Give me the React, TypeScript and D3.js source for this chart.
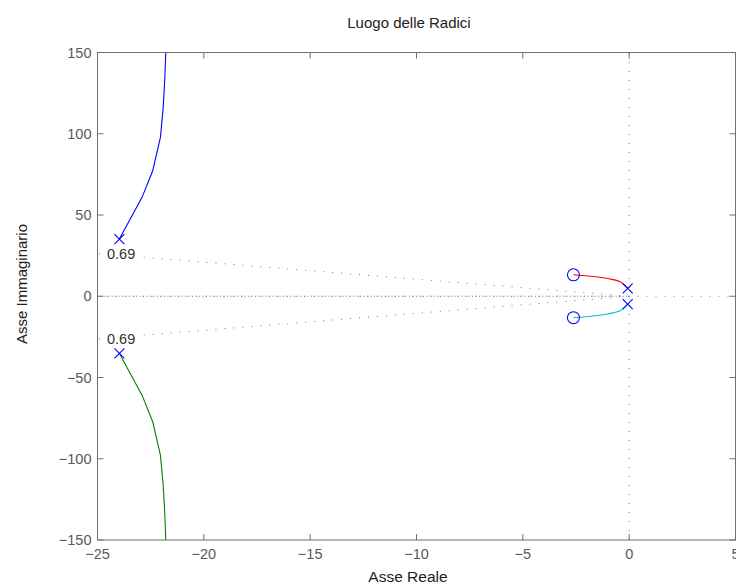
import React from "react";
import * as d3 from "d3";

// Root locus branches (real, imaginary)
const branchUpperRe = [-23.97, -22.9, -22.4, -22.04, -21.91, -21.84, -21.79, -21.78];
const branchUpperIm = [35.2, 61.0, 77.4, 97.9, 116.4, 132.8, 149.8, 160];
const branchLowerRe = [-23.97, -22.9, -22.4, -22.04, -21.91, -21.84, -21.79, -21.78];
const branchLowerIm = [-35.2, -61.0, -77.4, -97.9, -116.4, -132.8, -149.8, -160];
const branchRedRe = [-2.62, -1.81, -1.02, -0.4, -0.07];
const branchRedIm = [13.2, 12.3, 10.9, 8.8, 4.9];
const branchCyanRe = [-2.62, -1.81, -1.02, -0.4, -0.07];
const branchCyanIm = [-13.2, -12.3, -10.9, -8.8, -4.9];

// Open-loop poles and zeros
const polesRe = [-23.97, -23.97, -0.07, -0.07];
const polesIm = [35.2, -35.2, 4.9, -4.9];
const zerosRe = [-2.62, -2.62];
const zerosIm = [13.2, -13.2];

const xTicks = [-25, -20, -15, -10, -5, 0, 5];
const yTicks = [-150, -100, -50, 0, 50, 100, 150];
const dampingValue = 0.69;

const W = 736;
const H = 585;
const L = 97.5;
const R = 735.5;
const T = 52.5;
const B = 540;

const fmt = (v: number) => (v < 0 ? "\u2212" + Math.abs(v) : String(v));

export default function App() {
  const x = d3.scaleLinear().domain([-25, 5]).range([L, R]);
  const y = d3.scaleLinear().domain([-150, 150]).range([B, T]);

  const line = d3
    .line<[number, number]>()
    .x((d) => x(d[0]))
    .y((d) => y(d[1]));
  const lineX = d3
    .line<[number, number]>()
    .x((d) => x(d[0]))
    .y((d) => y(d[1]))
    .curve(d3.curveMonotoneX);

  const zip = (a: number[], b: number[]) => a.map((v, i) => [v, b[i]] as [number, number]);

  const axisColor = "#6f6f6f";
  const tickColor = "#5a5a5a";
  const gridColor = "#7a7a7a";
  const font = "'Liberation Sans', Arial, sans-serif";

  // Damping ratio lines end at the left edge of the axes
  const slope = Math.sqrt(1 - dampingValue * dampingValue) / dampingValue;
  const dampIm = 25 * slope;

  return (
    <svg width={W} height={H} style={{ position: "absolute", left: 0, top: 0 }}>
      <rect x={0} y={0} width={W} height={H} fill="#fff" />
      <defs>
        <clipPath id="plotArea">
          <rect x={L} y={T} width={R - L} height={B - T} />
        </clipPath>
      </defs>

      {/* grid */}
      <g clipPath="url(#plotArea)" stroke={gridColor} strokeWidth={1} fill="none">
        <line x1={x(-25)} y1={y(0)} x2={x(5)} y2={y(0)} strokeDasharray="1,8" />
        <line x1={x(-25)} y1={y(0)} x2={x(0)} y2={y(0)} strokeDasharray="1,2.5" />
        <line x1={x(0)} y1={y(-150)} x2={x(0)} y2={y(150)} strokeDasharray="1,8" />
        <line x1={x(0)} y1={y(0)} x2={x(-25)} y2={y(dampIm)} strokeDasharray="1,8" />
        <line x1={x(0)} y1={y(0)} x2={x(-25)} y2={y(-dampIm)} strokeDasharray="1,8" />
      </g>
      {[dampIm, -dampIm].map((im, i) => (
        <g key={i}>
          <rect x={107} y={y(im) - 8} width={32} height={16} fill="#fff" />
          <text
            x={107}
            y={y(im) + 5.5}
            fontFamily={font}
            fontSize={14.5}
            fill="#333"
          >
            {dampingValue.toFixed(2)}
          </text>
        </g>
      ))}

      {/* branches */}
      <g clipPath="url(#plotArea)" fill="none" strokeWidth={1.1}>
        <path d={line(zip(branchUpperRe, branchUpperIm)) || ""} stroke="#0000ff" />
        <path d={line(zip(branchLowerRe, branchLowerIm)) || ""} stroke="#008000" />
        <path d={lineX(zip(branchRedRe, branchRedIm)) || ""} stroke="#ff0000" />
        <path d={lineX(zip(branchCyanRe, branchCyanIm)) || ""} stroke="#00bfbf" />
      </g>

      {/* poles */}
      {polesRe.map((re, i) => {
        const cx = x(re);
        const cy = y(polesIm[i]);
        const s = 5;
        return (
          <path
            key={"p" + i}
            d={`M${cx - s},${cy - s}L${cx + s},${cy + s}M${cx - s},${cy + s}L${cx + s},${cy - s}`}
            stroke="#0000ff"
            strokeWidth={1.1}
          />
        );
      })}
      {/* zeros */}
      {zerosRe.map((re, i) => (
        <circle
          key={"z" + i}
          cx={x(re)}
          cy={y(zerosIm[i])}
          r={6}
          fill="none"
          stroke="#0000ff"
          strokeWidth={1.1}
        />
      ))}

      {/* frame */}
      <rect x={L} y={T} width={R - L} height={B - T} fill="none" stroke={axisColor} strokeWidth={1} />

      {/* ticks */}
      {xTicks.map((t) => (
        <g key={"xt" + t}>
          <line x1={x(t)} x2={x(t)} y1={B} y2={B - 6} stroke={axisColor} />
          <line x1={x(t)} x2={x(t)} y1={T} y2={T + 6} stroke={axisColor} />
          <text
            x={x(t)}
            y={B + 19}
            textAnchor="middle"
            fontFamily={font}
            fontSize={14.5}
            fill={tickColor}
          >
            {fmt(t)}
          </text>
        </g>
      ))}
      {yTicks.map((t) => (
        <g key={"yt" + t}>
          <line x1={L} x2={L + 6} y1={y(t)} y2={y(t)} stroke={axisColor} />
          <line x1={R} x2={R - 6} y1={y(t)} y2={y(t)} stroke={axisColor} />
          <text
            x={L - 6}
            y={y(t) + 5}
            textAnchor="end"
            fontFamily={font}
            fontSize={14.5}
            fill={tickColor}
          >
            {fmt(t)}
          </text>
        </g>
      ))}

      {/* labels */}
      <text x={409} y={28} textAnchor="middle" fontFamily={font} fontSize={15} fill="#222">
        Luogo delle Radici
      </text>
      <text x={408} y={582} textAnchor="middle" fontFamily={font} fontSize={15.5} fill="#222">
        Asse Reale
      </text>
      <text
        transform={`translate(27,284) rotate(-90)`}
        textAnchor="middle"
        fontFamily={font}
        fontSize={15}
        fill="#222"
      >
        Asse Immaginario
      </text>
    </svg>
  );
}
